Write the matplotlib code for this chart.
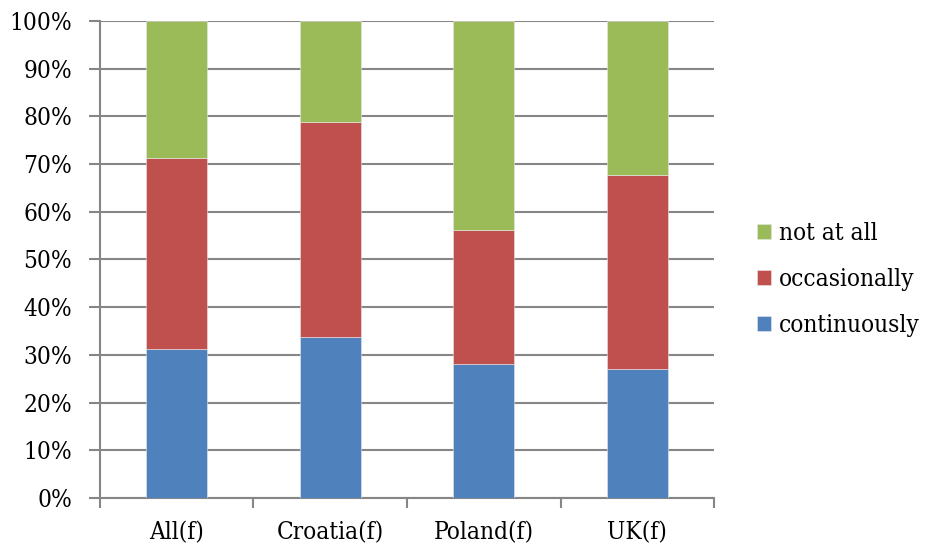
import matplotlib.pyplot as plt
import numpy as np

categories = ["All(f)", "Croatia(f)", "Poland(f)", "UK(f)"]
continuously = [31.2, 33.7, 28.0, 27.0]
occasionally = [40.0, 45.1, 28.1, 40.8]
not_at_all = [28.8, 21.2, 43.9, 32.2]

series = [("continuously", continuously, "#4f81bd"),
          ("occasionally", occasionally, "#c0504d"),
          ("not at all", not_at_all, "#9bbb59")]

plt.rcParams["font.family"] = ["DejaVu Serif"]
plt.rcParams["font.stretch"] = "condensed"

fig = plt.figure(figsize=(9.25, 5.5), dpi=100)
ax = fig.add_axes([0.108, 0.0945, 0.664, 0.8675])

x = np.arange(len(categories))
bottom = np.zeros(len(categories))
handles = []
for name, vals, color in series:
    b = ax.bar(x, vals, width=0.4, bottom=bottom, color=color,
               edgecolor="#e8e8e8", linewidth=0.4, label=name, zorder=3)
    handles.append(b)
    bottom += np.array(vals)

ax.set_xlim(-0.5, len(categories) - 0.5)
ax.set_ylim(0, 100)
ax.set_yticks(np.arange(0, 101, 10))
ax.set_yticklabels([f"{v}%" for v in range(0, 101, 10)], fontsize=17.5)
ax.yaxis.grid(True, color="#868686", linewidth=1.5, zorder=0)

# category boundaries as x ticks, labels in between
ax.set_xticks(np.arange(-0.5, len(categories), 1))
ax.set_xticklabels([])
ax.set_xticks(x, minor=True)
ax.set_xticklabels(categories, minor=True, fontsize=17.5)
ax.tick_params(axis="x", which="minor", length=0, pad=17)
ax.tick_params(axis="x", which="major", length=7, width=1.5, color="#868686")
ax.tick_params(axis="y", length=8, width=1.5, color="#868686", pad=12)

for side in ["top", "right"]:
    ax.spines[side].set_visible(False)
for side in ["left", "bottom"]:
    ax.spines[side].set_color("#868686")
    ax.spines[side].set_linewidth(1.5)

ax.legend(handles[::-1], [s[0] for s in series][::-1], loc="center left",
          bbox_to_anchor=(1.035, 0.458), frameon=False, fontsize=17.5,
          handlelength=0.55, handleheight=0.55, handletextpad=0.35,
          labelspacing=0.95)

fig.savefig("out.png", dpi=100)
